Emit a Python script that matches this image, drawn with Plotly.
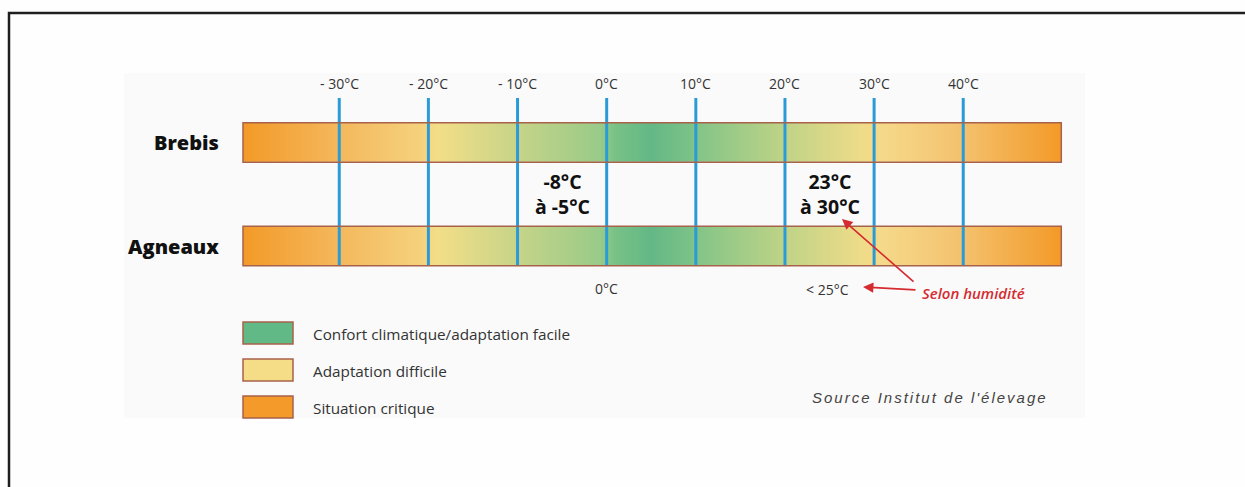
import numpy as np
import plotly.graph_objects as go

# ---------------- data ----------------
rows = ["Brebis", "Agneaux"]
row_pos = [1, 0]
bar_start = -40.8          # °C at left end of each bar
bar_end = 51.0             # °C at right end of each bar
tick_values = [-30, -20, -10, 0, 10, 20, 30, 40]
tick_labels = ["- 30°C", "- 20°C", "- 10°C", "0°C", "10°C", "20°C", "30°C", "40°C"]

# colour gradient stops along the temperature scale (same reading for both rows)
brebis_stop_temps = [-40.8, -30, -20.5, -19, -10, -0.5, 1, 5, 9.5, 11, 20, 29, 31, 40, 51.0]
brebis_stop_colors = ["#f39a28", "#f4b85c", "#f5d27e", "#f3de88", "#c6d488", "#98ca88",
                      "#78c187", "#63b886", "#7cc287", "#88c687", "#bfd387", "#f0dc88",
                      "#f5d98a", "#f4c16d", "#f39a28"]
agneaux_stop_temps = [-40.8, -30, -20.5, -19, -10, -0.5, 1, 5, 9.5, 11, 20, 29, 31, 40, 51.0]
agneaux_stop_colors = ["#f39a28", "#f4b85c", "#f5d27e", "#f3de88", "#c6d488", "#98ca88",
                       "#78c187", "#63b886", "#7cc287", "#88c687", "#bfd387", "#f0dc88",
                       "#f5d98a", "#f4c16d", "#f39a28"]

cold_limit_label = "-8°C<br>à -5°C"
cold_limit_x = -5
hot_limit_label = "23°C<br>à 30°C"
hot_limit_x = 25
lamb_cold_label = "0°C"
lamb_cold_x = 0
lamb_hot_label = "< 25°C"
lamb_hot_x = 24.8
humidity_label = "Selon humidité"

legend_labels = ["Confort climatique/adaptation facile", "Adaptation difficile", "Situation critique"]
legend_colors = ["#61ba86", "#f5dc87", "#f39a2b"]
source_text = "Source Institut de l'élevage"

# ---------------- layout helpers ----------------
W, H = 1245, 487
X_PX0, X_SLOPE = 606.68, 8.914      # pixel = X_PX0 + X_SLOPE * °C
Y_PX0, Y_SLOPE = 246.0, 103.5       # pixel = Y_PX0 - Y_SLOPE * row
xr = [(0 - X_PX0) / X_SLOPE, (W - X_PX0) / X_SLOPE]
yr = [(Y_PX0 - H) / Y_SLOPE, Y_PX0 / Y_SLOPE]


def px2x(px):
    return (px - X_PX0) / X_SLOPE


def py2y(py):
    return (Y_PX0 - py) / Y_SLOPE


HALF = 0.19
TEXT = "#333333"
FONT = "Open Sans"
OUTLINE = "#a8624c"

fig = go.Figure()

# frame around the graphic (top and left edges)
fig.add_trace(go.Scatter(x=[px2x(1245), px2x(9), px2x(9)], y=[py2y(13), py2y(13), py2y(487)],
                         mode="lines", line=dict(color="#1e1e1e", width=2.5),
                         hoverinfo="skip", showlegend=False, cliponaxis=False))

stops = {"Brebis": (brebis_stop_temps, brebis_stop_colors),
         "Agneaux": (agneaux_stop_temps, agneaux_stop_colors)}

n = 460
edges = np.linspace(bar_start, bar_end, n + 1)
centers = (edges[:-1] + edges[1:]) / 2
for name, pos in zip(rows, row_pos):
    temps, cols = stops[name]
    cs = [[(t - bar_start) / (bar_end - bar_start), c] for t, c in zip(temps, cols)]
    fig.add_trace(go.Heatmap(
        x=edges, y=[pos - HALF, pos + HALF], z=[centers],
        zmin=bar_start, zmax=bar_end, colorscale=cs, showscale=False,
        hoverinfo="skip"))

# vertical temperature lines
lx, ly = [], []
top_y = py2y(98)
bot_y = min(row_pos) - HALF
for t in tick_values:
    lx += [t, t, None]
    ly += [top_y, bot_y, None]
fig.add_trace(go.Scatter(x=lx, y=ly, mode="lines", line=dict(color="#2b9bd7", width=3),
                         hoverinfo="skip", showlegend=False))

# ---------------- shapes (all in one list) ----------------
shapes = [
    dict(type="rect", xref="paper", yref="paper", x0=124 / W, x1=1085 / W,
         y0=1 - 418 / H, y1=1 - 73 / H, fillcolor="#fafafa", line=dict(width=0), layer="below"),
]
for pos in row_pos:
    shapes.append(dict(type="rect", xref="x", yref="y", x0=bar_start, x1=bar_end,
                       y0=pos - HALF, y1=pos + HALF, line=dict(color=OUTLINE, width=1.5),
                       fillcolor="rgba(0,0,0,0)", layer="above"))

ann = []
for t, lab in zip(tick_values, tick_labels):
    ann.append(dict(x=t, y=py2y(83), text=lab, showarrow=False,
                    font=dict(family=FONT, size=14, color=TEXT)))

for name, pos in zip(rows, row_pos):
    ann.append(dict(x=px2x(221), y=pos, text=name, showarrow=False,
                    xanchor="right", font=dict(family=FONT, size=20, color="#111111", weight=800)))

for lab, x in [(cold_limit_label, cold_limit_x), (hot_limit_label, hot_limit_x)]:
    ann.append(dict(x=x, y=0.5, text=lab, showarrow=False,
                    font=dict(family=FONT, size=19.5, color="#111111", weight=700)))

ann.append(dict(x=lamb_cold_x, y=py2y(288), text=lamb_cold_label, showarrow=False,
                font=dict(family=FONT, size=14, color=TEXT)))
ann.append(dict(x=lamb_hot_x, y=py2y(289), text=lamb_hot_label, showarrow=False,
                font=dict(family=FONT, size=14, color=TEXT)))

RED = "#d52b30"
ann.append(dict(x=px2x(973), y=py2y(293), text=humidity_label,
                showarrow=False, font=dict(family=FONT, size=15, color=RED, style="italic",
                                           weight=600)))
# arrows
for (tx, ty), (hx, hy) in [((915, 283), (842, 219)), ((917, 290), (863, 287))]:
    ann.append(dict(x=px2x(hx), y=py2y(hy), ax=px2x(tx), ay=py2y(ty), axref="x", ayref="y",
                    text="", showarrow=True, arrowhead=2, arrowsize=1.3, arrowwidth=1.6,
                    arrowcolor=RED))

# legend (boxes + labels)
box_tops = [322, 359, 396]
for lab, col, top in zip(legend_labels, legend_colors, box_tops):
    shapes.append(dict(type="rect", xref="x", yref="y", x0=px2x(243), x1=px2x(293),
                       y0=py2y(top + 22), y1=py2y(top), fillcolor=col,
                       line=dict(color=OUTLINE, width=1.5), layer="above"))
    ann.append(dict(x=px2x(311), y=py2y(top + 12), text=lab, showarrow=False, xanchor="left",
                    font=dict(family=FONT, size=15.3, color=TEXT)))

ann.append(dict(x=px2x(810), y=py2y(397), xanchor="left",
                text='<span style="letter-spacing:2px">' + source_text + '</span>',
                showarrow=False, font=dict(family="Liberation Sans", size=15, color="#444444",
                                           style="italic")))

fig.update_layout(
    width=W, height=H, margin=dict(l=0, r=0, t=0, b=0),
    paper_bgcolor="#fefefe", plot_bgcolor="rgba(0,0,0,0)",
    xaxis=dict(range=xr, visible=False, fixedrange=True),
    yaxis=dict(range=yr, visible=False, fixedrange=True),
    showlegend=False, annotations=ann, shapes=shapes,
)

fig.write_html("out.html", config={"displayModeBar": False},
               post_script="document.body.style.margin='0';document.body.style.overflow='hidden';")
